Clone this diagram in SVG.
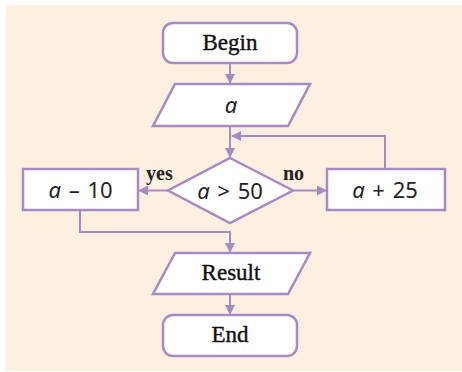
<svg xmlns="http://www.w3.org/2000/svg" width="462" height="372" viewBox="0 0 462 372">
<defs>
<style>
.s{fill:#fff;stroke:#a68ac4;stroke-width:2.5}
.c{fill:none;stroke:#a68ac4;stroke-width:2}
.t{font-family:"Liberation Serif",serif;font-size:23px;fill:#111;stroke:#111;stroke-width:0.4;text-anchor:middle}
.l{font-family:"Liberation Serif",serif;font-size:20px;font-weight:bold;fill:#222}
.m{font-family:"Noto Sans","DejaVu Sans",sans-serif;font-size:22px;fill:#222;text-anchor:middle;word-spacing:2px}
.i{font-style:italic}
</style>
<marker id="ah" markerWidth="10" markerHeight="10" refX="9" refY="5" orient="auto" markerUnits="userSpaceOnUse">
<path d="M0,0 L10,5 L0,10 Z" fill="#a68ac4"/>
</marker>
</defs>
<rect x="6" y="5" width="456" height="366" fill="#fdf0e1"/>
<g id="connectors">
<path class="c" d="M230,63 V83" marker-end="url(#ah)"/>
<path class="c" d="M230,126 V157" marker-end="url(#ah)"/>
<path class="c" d="M385,169 V136 H232" marker-end="url(#ah)"/>
<path class="c" d="M168,190.5 H139" marker-end="url(#ah)"/>
<path class="c" d="M293,190.5 H326" marker-end="url(#ah)"/>
<path class="c" d="M80,210 V232 H230 V252" marker-end="url(#ah)"/>
<path class="c" d="M230,294 V314" marker-end="url(#ah)"/>
</g>
<g id="begin">
<rect class="s" x="163" y="23" width="134" height="40" rx="10"/>
<text class="t" x="230" y="50">Begin</text>
</g>
<g id="input">
<polygon class="s" points="175,84 310,84 288,126 153,126"/>
<text class="m i" x="231" y="113">a</text>
</g>
<g id="decision">
<polygon class="s" points="230,158 293,190.5 230,223 168,190.5"/>
<text class="m" x="230" y="199"><tspan class="i">a</tspan> &gt; 50</text>
</g>
<g id="minus">
<rect class="s" x="23" y="169" width="115" height="41"/>
<text class="m" x="80.5" y="198"><tspan class="i">a</tspan> – 10</text>
</g>
<g id="plus">
<rect class="s" x="327" y="169" width="118" height="41"/>
<text class="m" x="385" y="198"><tspan class="i">a</tspan> + 25</text>
</g>
<g id="labels">
<text class="l" x="146" y="180">yes</text>
<text class="l" x="283" y="180">no</text>
</g>
<g id="result">
<polygon class="s" points="175,253 310,253 288,294 153,294"/>
<text class="t" x="231" y="280">Result</text>
</g>
<g id="end">
<rect class="s" x="163" y="315" width="134" height="41" rx="10"/>
<text class="t" x="230" y="342">End</text>
</g>
</svg>
